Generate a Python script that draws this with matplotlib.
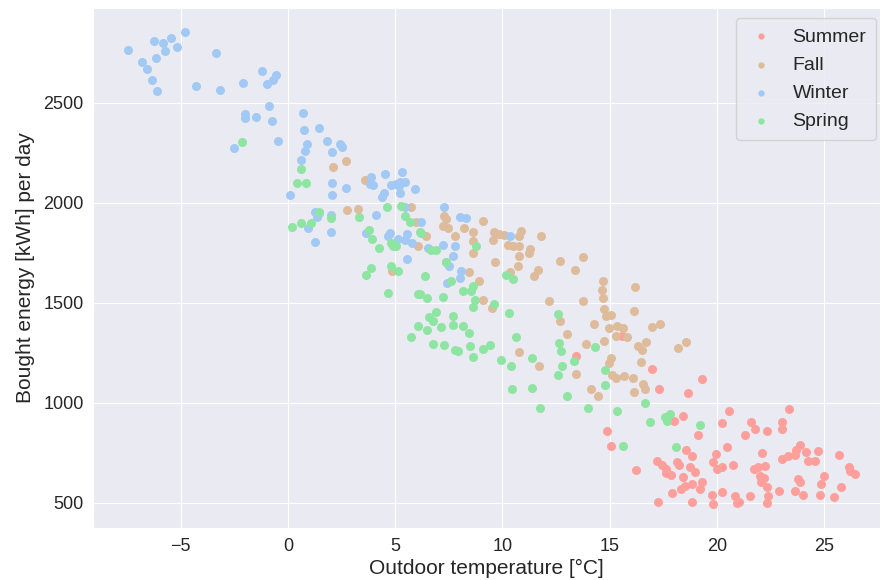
import matplotlib
matplotlib.use("Agg")
import matplotlib.pyplot as plt
import seaborn as sns

# daily outdoor temperature (°C) and bought energy (kWh) per season
summer_temp = [13.43, 14.87, 15.05, 15.57, 16.99, 17.3, 19.29, 18.67, 18.0, 18.43, 19.13, 20.56,
               20.25, 21.33, 20.48, 18.57, 18.85, 19.94, 19.83, 20.02, 20.22, 20.74, 16.22, 17.22,
               17.46, 17.61, 17.85, 17.64, 18.15, 18.23, 18.73, 18.98, 18.42, 18.31, 18.51, 18.85,
               19.32, 19.2, 17.89, 17.27, 18.82, 19.78, 19.81, 20.25, 20.84, 20.94,
               23.35, 21.61, 21.77, 22.31, 23.01, 23.01, 22.08, 23.01, 23.32, 23.63, 23.86, 23.69,
               24.13, 24.25, 24.59, 24.7, 21.72, 21.92, 22.23, 21.99, 22.19, 22.03, 22.34, 23.78,
               23.86, 22.88, 23.66, 24.01, 21.54, 22.39, 22.34, 25.0, 24.87, 24.79, 25.44, 25.67,
               25.8, 26.14, 26.22, 26.42, 21.02]
summer_energy = [1232, 857, 785, 1332, 1169, 1070, 1120, 1048, 910, 935, 840, 957,
                 899, 840, 779, 762, 732, 745, 703, 668, 681, 690, 665, 711,
                 690, 668, 640, 648, 706, 690, 678, 656, 628, 568, 585, 595,
                 603, 568, 548, 502, 502, 538, 493, 556, 535, 498,
                 968, 906, 870, 860, 906, 870, 748, 718, 732, 740, 790, 762,
                 752, 710, 707, 757, 668, 678, 682, 632, 623, 602, 578, 618,
                 602, 560, 560, 540, 532, 532, 498, 635, 595, 540, 527, 740,
                 577, 678, 657, 644, 502]

fall_temp = [2.11, 2.7, 3.6, 5.75, 2.76, 3.27, 5.95, 6.45, 6.06, 4.87,
             7.3, 7.38, 7.22, 7.46, 8.19, 9.08,
             7.77, 8.62, 8.62, 9.63, 9.86, 10.09, 10.79, 10.87, 9.55, 11.8, 10.25, 10.51,
             10.79, 8.65, 11.29, 11.26, 10.76, 9.67, 10.71, 12.68, 13.77, 13.4, 11.64, 11.49,
             10.36, 8.43, 8.93, 9.08, 9.52, 14.67, 14.64, 14.67, 12.15, 13.77, 14.74, 14.82,
             15.05, 12.68, 14.28, 14.95, 12.99, 13.89, 14.74, 15.29, 10.76, 15.05, 14.98, 11.72,
             13.43, 15.13, 15.29, 14.15, 14.47,
             16.19, 16.14, 15.36, 15.6, 15.83, 16.99, 17.35, 16.34, 16.5, 16.71, 18.19, 18.57, 16.48,
             15.67, 16.09, 16.53, 16.65, 16.14]
fall_energy = [2180, 2208, 2115, 1978, 1965, 1968, 1902, 1835, 1782, 1660,
               1932, 1919, 1882, 1874, 1874, 1907,
               1832, 1852, 1807, 1852, 1845, 1840, 1835, 1857, 1812, 1835, 1790, 1782,
               1782, 1749, 1767, 1749, 1732, 1703, 1682, 1707, 1728, 1665, 1662, 1632,
               1652, 1652, 1607, 1515, 1474, 1607, 1565, 1524, 1507, 1510, 1469, 1432,
               1440, 1407, 1394, 1374, 1344, 1295, 1310, 1335, 1252, 1224, 1199, 1182,
               1145, 1140, 1124, 1069, 1035,
               1578, 1457, 1382, 1373, 1327, 1379, 1394, 1285, 1265, 1302, 1274, 1302, 1205,
               1135, 1124, 1095, 1070, 1052]

winter_temp = [-7.46, -6.25, -5.81, -5.43, -4.79, -5.16, -5.73, -6.13, -6.82, -6.57, -6.33, -6.09,
               -3.36, -4.29, -3.16, -2.11, -1.22, -0.54, -0.68, -0.98, -0.88, -2.0, -1.99, -1.5,
               -0.74, -0.45, -2.5,
               0.71, 0.74, 1.46, 0.9, 0.79, 1.83, 2.42, 2.54, 2.08, 0.62, 2.08, 2.08, 2.7, 0.09,
               3.89, 3.81, 3.97, 4.51, 4.4, 4.48, 4.79, 5.05, 5.21, 5.44, 5.18, 5.3, 5.24, 5.92,
               7.29, 5.44, 4.09, 6.2, 1.26, 1.46, 1.36, 2.03, 0.94, 2.03, 3.63, 4.74,
               1.26, 4.67, 5.13, 5.44, 5.55, 5.8, 6.53, 7.22, 5.57, 7.41,
               8.0, 8.31, 7.77, 10.36, 7.69, 7.35, 7.53, 8.08, 8.0]
winter_energy = [2763, 2811, 2801, 2825, 2855, 2781, 2761, 2725, 2706, 2670, 2615, 2561,
                 2751, 2585, 2565, 2601, 2661, 2641, 2613, 2593, 2485, 2443, 2426, 2428,
                 2410, 2308, 2273,
                 2450, 2362, 2373, 2295, 2260, 2310, 2295, 2277, 2252, 2215, 2100, 2040, 2072, 2037,
                 2127, 2092, 2089, 2142, 2029, 2049, 2089, 2095, 2105, 2105, 2082, 2153, 2048, 2067,
                 1978, 1978, 1940, 1903, 1953, 1948, 1928, 1937, 1875, 1852, 1848, 1848,
                 1804, 1835, 1819, 1812, 1845, 1799, 1774, 1790, 1720, 1599,
                 1929, 1924, 1785, 1835, 1732, 1702, 1682, 1657, 1624]

spring_temp = [-2.13,
               0.6, 0.43, 0.84, 0.6, 1.1, 0.17, 1.46, 1.99, 3.3, 4.62, 5.26, 5.44, 5.71, 6.17, 3.78,
               3.94, 4.25, 4.82, 4.98, 5.06, 4.9, 6.22, 6.68, 6.92, 7.35, 3.89, 3.66, 4.8, 5.13,
               6.37, 4.67, 6.06, 6.17, 6.48, 7.22, 6.92, 6.57, 6.76, 6.06, 6.48, 7.12, 5.75, 6.76,
               7.26,
               8.78, 10.17, 10.48, 7.61, 8.62, 8.54, 8.15, 8.74, 8.62, 9.63, 10.33, 7.69, 7.69,
               8.15, 8.43, 12.57, 10.64, 12.65, 12.73, 14.33, 7.77, 7.92, 8.5, 9.08, 9.4, 8.62,
               13.35, 9.94, 10.4, 11.38, 12.78,
               12.57, 14.79, 10.43, 11.38, 14.78, 13.01, 11.77, 14.01, 15.36,
               16.65, 16.87, 17.58, 17.8, 17.69, 19.2, 15.6, 18.11]
spring_energy = [2303,
                 2168, 2097, 2097, 1898, 1898, 1878, 1955, 1925, 1927, 1978, 1982, 1932, 1903, 1852, 1862,
                 1819, 1774, 1799, 1790, 1782, 1785, 1849, 1762, 1765, 1702, 1674, 1637, 1685, 1657,
                 1632, 1549, 1545, 1545, 1524, 1529, 1452, 1429, 1410, 1382, 1362, 1377, 1327, 1294,
                 1287,
                 1782, 1640, 1618, 1610, 1585, 1557, 1557, 1512, 1479, 1495, 1449, 1435, 1390,
                 1382, 1349, 1444, 1327, 1299, 1257, 1277, 1265, 1257, 1282, 1269, 1290, 1229,
                 1207, 1215, 1182, 1224, 1182,
                 1137, 1165, 1069, 1074, 1090, 1035, 974, 974, 957,
                 997, 904, 928, 945, 907, 887, 785, 779]

seasons = ["Summer", "Fall", "Winter", "Spring"]
temps = [summer_temp, fall_temp, winter_temp, spring_temp]
energies = [summer_energy, fall_energy, winter_energy, spring_energy]
colors = ["#FF9F9B", "#DEBB9B", "#A1C9F4", "#8DE5A1"]

sns.set_style("darkgrid")
plt.rcParams['font.family'] = ['Liberation Sans', 'DejaVu Sans']

fig = plt.figure(figsize=(8.8, 5.8), dpi=100)
ax = fig.add_axes([0.106, 0.09, 0.894, 0.896])

for name, t, e, c in zip(seasons, temps, energies, colors):
    ax.scatter(t, e, s=42, color=c, linewidths=0, label=name)

ax.set_xlim(-9.07, 27.6)
ax.set_ylim(375, 2973)
ax.set_xticks([-5, 0, 5, 10, 15, 20, 25])
ax.set_yticks([500, 1000, 1500, 2000, 2500])
ax.tick_params(labelsize=13)
ax.set_xlabel("Outdoor temperature [°C]", fontsize=15, labelpad=3)
ax.set_ylabel("Bought energy [kWh] per day", fontsize=15, labelpad=6)

ax.legend(loc="upper right", bbox_to_anchor=(1.0, 0.988), fontsize=14, markerscale=0.7,
          borderpad=0.5, handlelength=1.6, handletextpad=0.8, labelspacing=0.55,
          borderaxespad=0.2)

fig.savefig("out.png", dpi=100)
